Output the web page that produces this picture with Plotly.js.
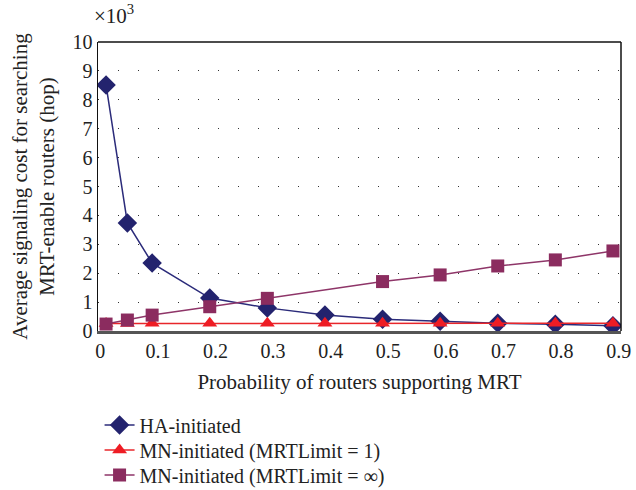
<!DOCTYPE html>
<html>
<head>
<meta charset="utf-8">
<script src="https://cdn.plot.ly/plotly-3.0.1.min.js"></script>
<style>html,body{margin:0;padding:0;background:#fff}#chart{width:636px;height:490px}</style>
</head>
<body>
<div id="chart"></div>
<script>
const xAll = [0.01, 0.047, 0.09, 0.19, 0.29, 0.39, 0.49, 0.59, 0.69, 0.79, 0.89];
const haInitiated = [8.51, 3.74, 2.35, 1.14, 0.80, 0.55, 0.41, 0.34, 0.27, 0.23, 0.18];
const mnLimit1 = [0.26, 0.26, 0.27, 0.27, 0.27, 0.27, 0.27, 0.27, 0.27, 0.27, 0.27];
const xInf = [0.01, 0.047, 0.09, 0.19, 0.29, 0.49, 0.59, 0.69, 0.79, 0.89];
const mnLimitInf = [0.24, 0.38, 0.55, 0.84, 1.13, 1.71, 1.94, 2.25, 2.46, 2.77];
const xTicks = [0, 0.1, 0.2, 0.3, 0.4, 0.5, 0.6, 0.7, 0.8, 0.9];
const xTickText = ['0', '0.1', '0.2', '0.3', '0.4', '0.5', '0.6', '0.7', '0.8', '0.9'];
const yTicks = [0, 1, 2, 3, 4, 5, 6, 7, 8, 9, 10];
const names = ['HA-initiated', 'MN-initiated (MRTLimit = 1)', 'MN-initiated (MRTLimit = \u221E)'];

const F = 'Liberation Serif';
const legFont = {family: F, size: 20, color: '#222'};
const traces = [
  {x: xAll, y: haInitiated, name: names[0], mode: 'lines+markers', legend: 'legend',
   line: {color: '#2b2b7a', width: 1.5}, marker: {symbol: 'diamond', size: 15, color: '#23236e'}},
  {x: xAll, y: mnLimit1, name: names[1], mode: 'lines+markers', legend: 'legend2',
   line: {color: '#e8262a', width: 1.5}, marker: {symbol: 'triangle-up', size: 13, color: '#ee1c24'}},
  {x: xInf, y: mnLimitInf, name: names[2], mode: 'lines+markers', legend: 'legend3',
   line: {color: '#8e3568', width: 1.5}, marker: {symbol: 'square', size: 13, color: '#8b2c5f'}}
];

function leg(y) {
  return {x: 0.003, xanchor: 'left', y: y, yanchor: 'middle', bgcolor: 'rgba(0,0,0,0)',
          font: legFont, itemwidth: 30, borderwidth: 0};
}

const layout = {
  width: 636, height: 490,
  margin: {l: 98, r: 15, t: 42, b: 159, autoexpand: false},
  paper_bgcolor: '#fff', plot_bgcolor: '#fff',
  font: {family: F, size: 20, color: '#222'},
  showlegend: true,
  legend: leg(-0.325),
  legend2: leg(-0.412),
  legend3: leg(-0.498),
  xaxis: {range: [-0.004, 0.904], tickvals: xTicks, ticktext: xTickText, showgrid: false, zeroline: false,
          showline: true, linecolor: '#555', linewidth: 3, mirror: false, ticks: '',
          tickfont: {family: F, size: 20, color: '#222'},
          title: {text: 'Probability of routers supporting MRT', font: {family: F, size: 21, color: '#222'}, standoff: 14}},
  yaxis: {range: [0, 10], tickvals: yTicks, showgrid: true, gridcolor: '#333', gridwidth: 1, griddash: '1px,19px',
          zeroline: false, showline: true, linecolor: '#111', linewidth: 1.5, ticks: '',
          tickfont: {family: F, size: 20, color: '#222'},
          title: {text: 'Average signaling cost for searching<br>MRT-enable routers (hop)', font: {family: F, size: 21, color: '#222'}, standoff: 12}},
  shapes: [
    {type: 'line', xref: 'paper', yref: 'paper', x0: 0, x1: 1, y0: 1, y1: 1, line: {color: '#111', width: 1.5}},
    {type: 'line', xref: 'paper', yref: 'paper', x0: 1, x1: 1, y0: 0, y1: 1, line: {color: '#111', width: 1.5}}
  ],
  annotations: [
    {xref: 'paper', yref: 'paper', x: -0.012, y: 1.04, xanchor: 'left', yanchor: 'bottom', showarrow: false,
     text: '\u00D710<sup>3</sup>', font: {family: F, size: 21, color: '#222'}}
  ]
};

Plotly.newPlot('chart', traces, layout, {displayModeBar: false, staticPlot: true});
</script>
</body>
</html>
